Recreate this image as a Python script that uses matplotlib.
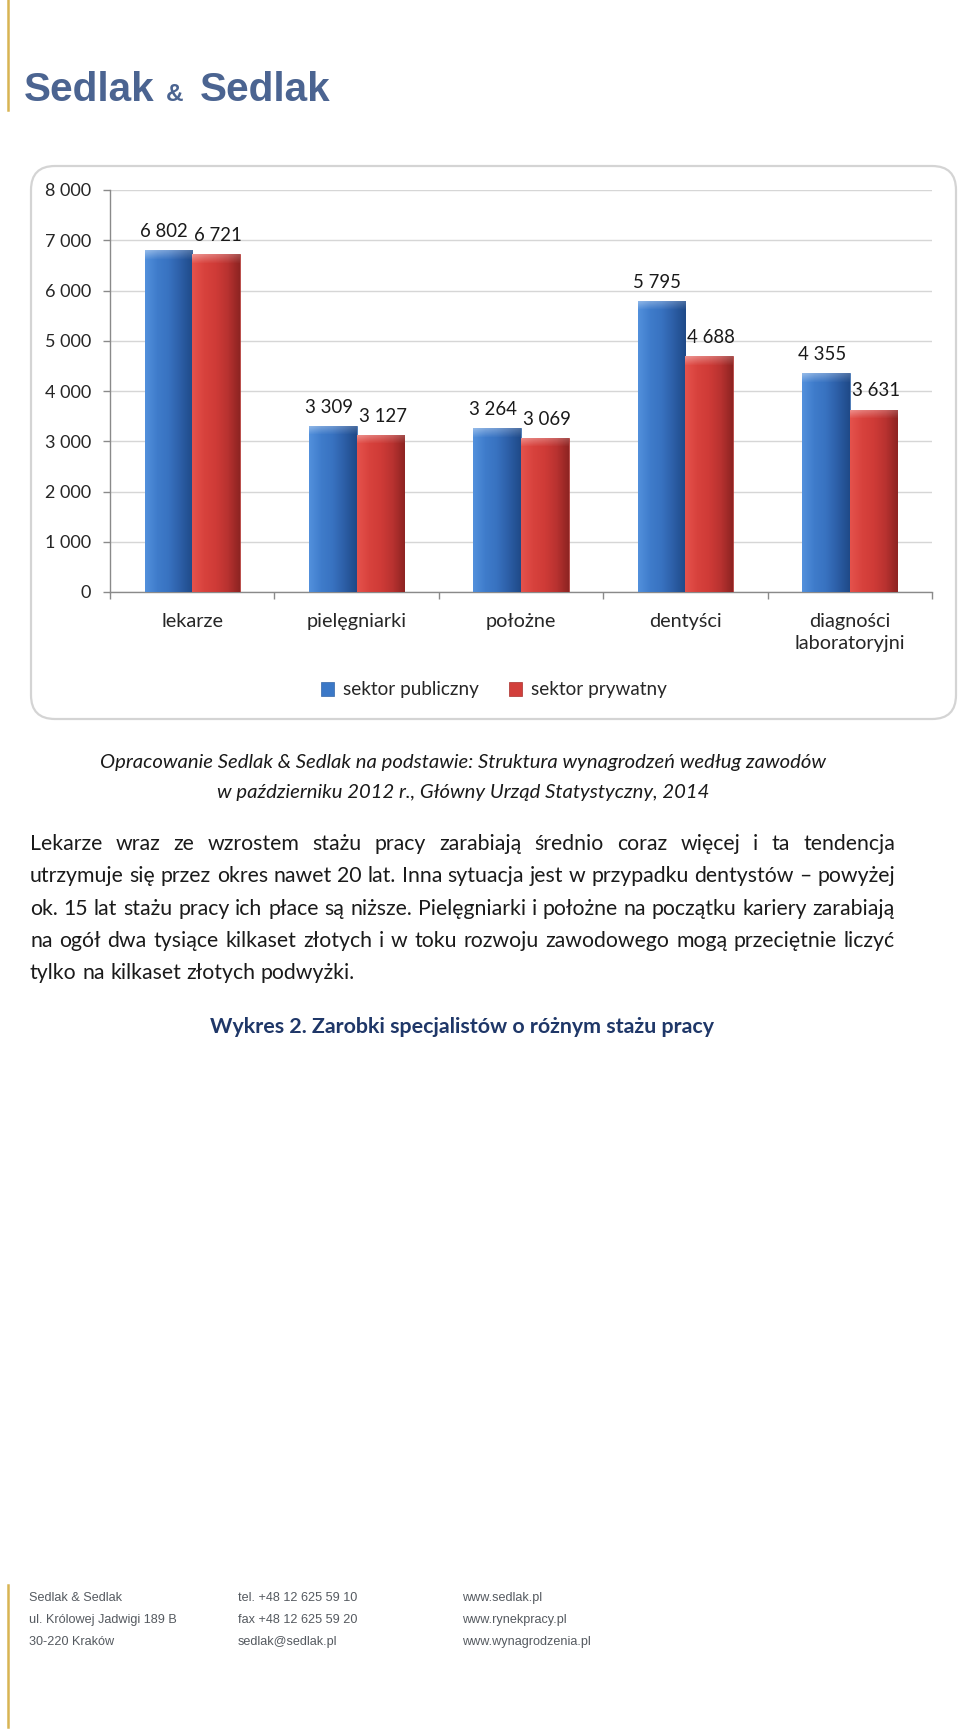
import matplotlib
matplotlib.use("Agg")
import matplotlib.pyplot as plt
import numpy as np
from matplotlib.patches import FancyBboxPatch
from matplotlib.lines import Line2D
from matplotlib.transforms import IdentityTransform
from matplotlib.colors import LinearSegmentedColormap

# ---------------- data ----------------
categories = ["lekarze", "pielęgniarki", "położne", "dentyści", "diagności\nlaboratoryjni"]
public_values = [6802, 3309, 3264, 5795, 4355]
private_values = [6721, 3127, 3069, 4688, 3631]
series_names = ["sektor publiczny", "sektor prywatny"]
y_ticks = [0, 1000, 2000, 3000, 4000, 5000, 6000, 7000, 8000]

caption_lines = [
    "Opracowanie Sedlak & Sedlak na podstawie: Struktura wynagrodzeń według zawodów",
    "w październiku 2012 r., Główny Urząd Statystyczny, 2014",
]
paragraph_lines = [
    "Lekarze wraz ze wzrostem stażu pracy zarabiają średnio coraz więcej i ta tendencja",
    "utrzymuje się przez okres nawet 20 lat. Inna sytuacja jest w przypadku dentystów – powyżej",
    "ok. 15 lat stażu pracy ich płace są niższe. Pielęgniarki i położne na początku kariery zarabiają",
    "na ogół dwa tysiące kilkaset złotych i w toku rozwoju zawodowego mogą przeciętnie liczyć",
    "tylko na kilkaset złotych podwyżki.",
]
title_text = "Wykres 2. Zarobki specjalistów o różnym stażu pracy"
footer_cols = [
    ["Sedlak & Sedlak", "ul. Królowej Jadwigi 189 B", "30-220 Kraków"],
    ["tel. +48 12 625 59 10", "fax +48 12 625 59 20", "sedlak@sedlak.pl"],
    ["www.sedlak.pl", "www.rynekpracy.pl", "www.wynagrodzenia.pl"],
]

# ---------------- figure ----------------
W, H = 960, 1734
fig = plt.figure(figsize=(W / 100, H / 100), dpi=100)
fig.patch.set_facecolor("white")
renderer = fig.canvas.get_renderer()


def fx(px):
    return px / W


def fy(py):
    return 1 - py / H


def text_width(s, **kw):
    t = fig.text(0, 0, s, **kw)
    w = t.get_window_extent(renderer).width
    t.remove()
    return w


def fit_size(s, target_px, **kw):
    return 10 * target_px / text_width(s, fontsize=10, **kw)


GOLD = "#d8b453"
fig.add_artist(Line2D([fx(8), fx(8)], [fy(0), fy(110)], color=GOLD, lw=1.8))
fig.add_artist(Line2D([fx(8), fx(8)], [fy(1585), fy(1727)], color=GOLD, lw=1.8))

# header logo text
HDR = "#4b6491"
hs = fit_size("Sedlak", 131, family="Liberation Sans", weight="bold")
fig.text(fx(24), fy(101), "Sedlak", family="Liberation Sans", weight="bold",
         fontsize=hs, color=HDR, va="baseline", ha="left")
fig.text(fx(166), fy(101), "&", family="Liberation Sans", weight="bold",
         fontsize=hs * 0.6, color=HDR, va="baseline", ha="left")
fig.text(fx(200), fy(101), "Sedlak", family="Liberation Sans", weight="bold",
         fontsize=hs, color=HDR, va="baseline", ha="left")

# chart frame (rounded)
frame = FancyBboxPatch((31, H - 719), 925, 553,
                       boxstyle="round,pad=0,rounding_size=24",
                       transform=IdentityTransform(), facecolor="white",
                       edgecolor="#d4d4d4", lw=1.6, zorder=0)
fig.add_artist(frame)

# ---------------- chart ----------------
FONT = "Lato"
ax = fig.add_axes([fx(110), fy(592), fx(932) - fx(110), fy(190) - fy(592)])
ax.set_facecolor("none")
x = np.arange(len(categories))
w = 0.29

blue_cmap = LinearSegmentedColormap.from_list(
    "b", ["#5290dc", "#3f7ccb", "#3872c0", "#2c5ea6", "#1f4a88"])
red_cmap = LinearSegmentedColormap.from_list(
    "r", ["#e5524c", "#d8423d", "#cf3b37", "#b83230", "#8e2422"])

bars_pub = ax.bar(x - w / 2, public_values, w, color="#3b78c7", edgecolor="#3465a8",
                  lw=0.5, zorder=3, label=series_names[0])
bars_pri = ax.bar(x + w / 2, private_values, w, color="#d23f3b", edgecolor="#a8302d",
                  lw=0.5, zorder=3, label=series_names[1])

grad = np.linspace(0, 1, 64).reshape(1, -1)
shine = np.zeros((8, 16, 4))
shine[..., :3] = 1.0
shine[..., 3] = np.linspace(0.38, 0.05, 8)[:, None] * np.linspace(1.0, 0.55, 16)[None, :]
for bars, cmap in ((bars_pub, blue_cmap), (bars_pri, red_cmap)):
    for b in bars:
        x0, wd, h = b.get_x(), b.get_width(), b.get_height()
        im = ax.imshow(grad, extent=[x0, x0 + wd, 0, h], cmap=cmap, aspect="auto",
                       zorder=3.5, interpolation="bicubic")
        im.set_clip_path(b)
        top = ax.imshow(shine, extent=[x0, x0 + wd, h - 170, h], aspect="auto",
                        zorder=3.6, interpolation="bilinear", origin="upper")
        top.set_clip_path(b)

lab_size = fit_size("6 802", 48, family=FONT)
for bars, vals, dx in ((bars_pub, public_values, -3), (bars_pri, private_values, 1.5)):
    for b, v in zip(bars, vals):
        ax.annotate(f"{v:,}".replace(",", " "),
                    (b.get_x() + b.get_width() / 2, v),
                    xytext=(dx, 9.5), textcoords="offset points",
                    ha="center", va="baseline", fontsize=lab_size,
                    family=FONT, color="#1a1a1a", zorder=5)

ax.set_xlim(-0.5, len(categories) - 0.5)
ax.set_ylim(0, 8000)
ax.set_yticks(y_ticks)
ax.set_yticklabels([f"{t:,}".replace(",", " ") for t in y_ticks])
ax.set_xticks(x)
ax.set_xticklabels(categories)
ax.set_xticks(np.arange(-0.5, len(categories)), minor=True)
ax.grid(axis="y", color="#d6d6d6", lw=1.0, zorder=0)
ax.set_axisbelow(True)
for s in ("top", "right"):
    ax.spines[s].set_visible(False)
for s in ("left", "bottom"):
    ax.spines[s].set_color("#8a8a8a")
    ax.spines[s].set_linewidth(1.0)

tick_size = fit_size("8 000", 46, family=FONT)
cat_size = fit_size("pielęgniarki", 100, family=FONT)
ax.tick_params(axis="y", length=5, width=1.0, color="#8a8a8a", pad=8.5,
               labelsize=tick_size, labelcolor="#262626")
ax.tick_params(axis="x", which="major", length=0, pad=15,
               labelsize=cat_size, labelcolor="#262626")
ax.tick_params(axis="x", which="minor", length=5, width=1.0, color="#8a8a8a")
for t in ax.get_xticklabels() + ax.get_yticklabels():
    t.set_family(FONT)
for t in ax.get_xticklabels():
    t.set_linespacing(1.35)

leg_size = fit_size("sektor prywatny", 136, family=FONT)
leg = fig.legend(handles=[bars_pub, bars_pri], labels=series_names,
                 loc="center", bbox_to_anchor=(fx(494), fy(690)), ncol=2,
                 frameon=False, prop={"family": FONT, "size": leg_size},
                 handlelength=0.7, handleheight=0.7, handletextpad=0.45,
                 columnspacing=1.6)
for t in leg.get_texts():
    t.set_color("#262626")

# ---------------- caption ----------------
cap_size = fit_size(caption_lines[0], 728, family=FONT, style="italic")
for line, yb in zip(caption_lines, (768, 798)):
    fig.text(fx(463), fy(yb), line, family=FONT, style="italic", fontsize=cap_size,
             ha="center", va="baseline", color="#1a1a1a")

# ---------------- justified paragraph ----------------
left, right = 30, 895
nat = max(text_width(l, family=FONT, fontsize=10) for l in paragraph_lines[1:4])
par_size = 10 * (right - left - 4) / nat
baselines = [850, 882, 915, 947, 979]
space_w = (text_width("a b", family=FONT, fontsize=par_size)
           - text_width("ab", family=FONT, fontsize=par_size))
for i, (line, yb) in enumerate(zip(paragraph_lines, baselines)):
    words = line.split(" ")
    widths = [text_width(wd, family=FONT, fontsize=par_size) for wd in words]
    last = i == len(paragraph_lines) - 1
    if last or len(words) == 1:
        gap = space_w
    else:
        gap = (right - left - sum(widths)) / (len(words) - 1)
    xpos = left
    for wd, ww in zip(words, widths):
        fig.text(fx(xpos), fy(yb), wd, family=FONT, fontsize=par_size,
                 ha="left", va="baseline", color="#1a1a1a")
        xpos += ww + gap

# ---------------- title ----------------
tit_size = fit_size(title_text, 504, family=FONT, weight="bold")
fig.text(fx(462), fy(1033), title_text, family=FONT, weight="bold", fontsize=tit_size,
         ha="center", va="baseline", color="#1f3768")

# ---------------- footer ----------------
foot_size = fit_size(footer_cols[0][1], 148, family="Liberation Sans")
for col, xc in zip(footer_cols, (29, 238, 462)):
    for row, yb in zip(col, (1601, 1623, 1645)):
        fig.text(fx(xc), fy(yb), row, family="Liberation Sans", fontsize=foot_size,
                 ha="left", va="baseline", color="#555a60")

fig.savefig("out.png", dpi=100, facecolor="white")
